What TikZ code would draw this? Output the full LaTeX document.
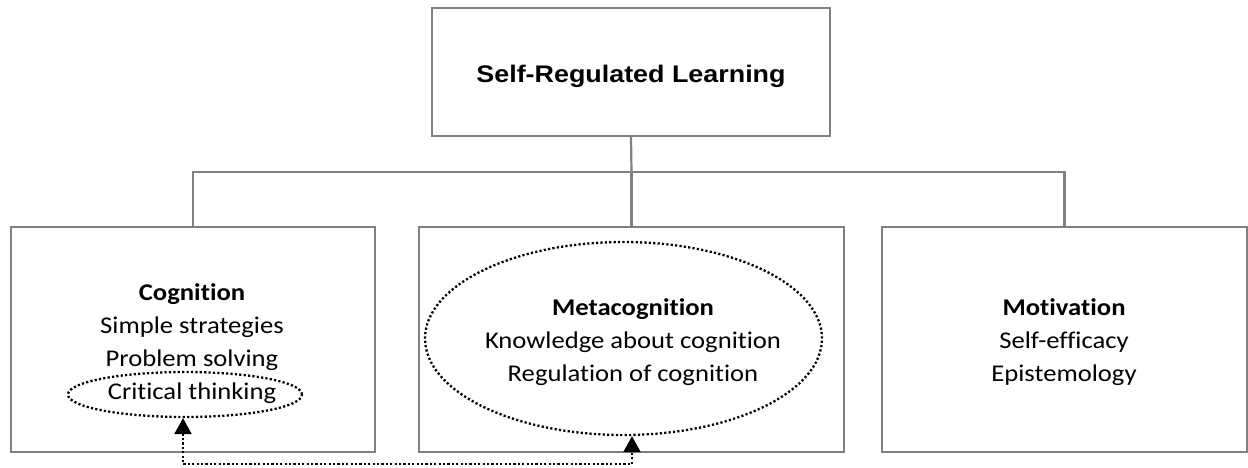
\documentclass[tikz,border=0pt]{standalone}
\usepackage{fontspec}
\setmainfont{Carlito}[FakeStretch=1.11,Ligatures=NoCommon]
\newfontfamily\titlefont{Liberation Sans}[FakeStretch=1.12]
\usetikzlibrary{shapes.geometric,arrows.meta}
\definecolor{framegray}{RGB}{128,128,128}
\begin{document}
\begin{tikzpicture}[x=1pt,y=-1pt,
  frame/.style={draw=framegray,line width=2.2pt,fill=white,inner sep=0pt},
  wire/.style={draw=framegray,line width=2.2pt},
  body/.style={align=center,inner sep=0pt,font=\fontsize{24}{33}\selectfont},
  ring/.style={ellipse,draw=black,line width=2.3pt,dash pattern=on 2.2pt off 2.2pt,inner sep=0pt},
  link/.style={draw=black,line width=2.3pt,dash pattern=on 2.2pt off 2.2pt,
    {Triangle[length=16pt,width=17pt]}-{Triangle[length=16pt,width=17pt]}}
]
\useasboundingbox (0,0) rectangle (1248,467);

% hierarchy lines
\coordinate (bar) at (631.5,172);
\coordinate (low) at (400,464);

% boxes
\node[frame,minimum width=398pt,minimum height=128pt] (srl) at (631,72) {};
\node[frame,minimum width=364pt,minimum height=225pt] (cog) at (193,339.5) {};
\node[frame,minimum width=425pt,minimum height=225pt] (meta) at (631.5,339.5) {};
\node[frame,minimum width=365pt,minimum height=225pt] (mot) at (1064.5,339.5) {};

\draw[wire] (srl.south) -- (bar);
\draw[wire] (bar) -- (meta.north);
\draw[wire] (cog.north) |- (bar) -| (mot.north);

% texts
\node[anchor=base,inner sep=0pt,font=\titlefont\bfseries\fontsize{24}{28}\selectfont] (srltext) at (631,82) {Self-Regulated Learning};
\node[body] (cogtext) at (192,344) {\textbf{Cognition}\\Simple strategies\\Problem solving\\Critical thinking};
\node[body] (metatext) at (633,342) {\textbf{Metacognition}\\Knowledge about cognition\\Regulation of cognition};
\node[body] (mottext) at (1064,342) {\textbf{Motivation}\\Self-efficacy\\Epistemology};

% dotted rings
\node[ring,minimum width=234pt,minimum height=45pt] (critring) at (185,394.5) {};
\node[ring,minimum width=397pt,minimum height=193pt] (metaring) at (623.5,338.5) {};

% dotted link between the rings
\coordinate (critfoot) at ([xshift=-2pt]critring.south);
\coordinate (metafoot) at ([xshift=8.5pt]metaring.south);
\draw[link] (critfoot) -- (critfoot |- low) -| (metafoot);
\end{tikzpicture}
\end{document}
